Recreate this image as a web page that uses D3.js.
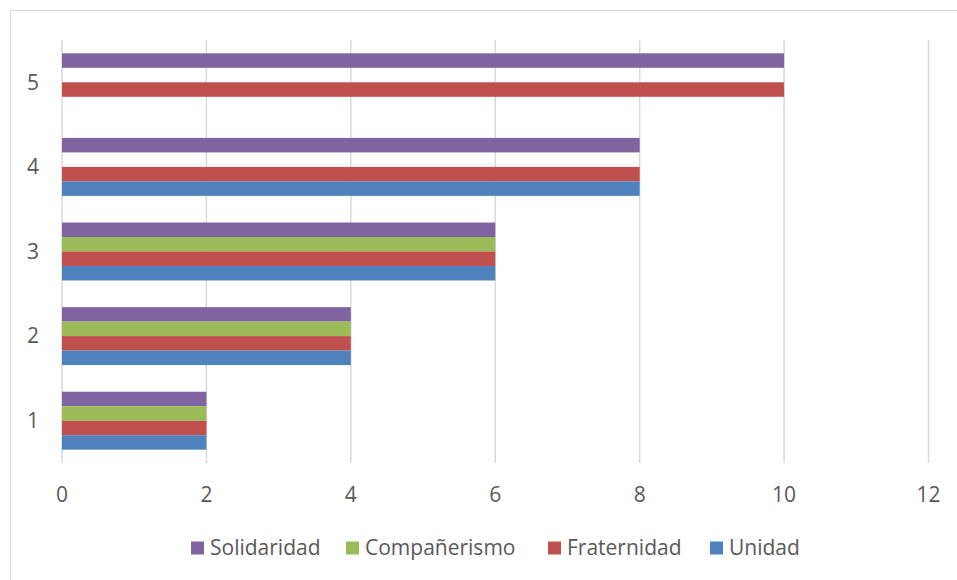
<!DOCTYPE html>
<html>
<head>
<meta charset="utf-8">
<script src="https://cdn.jsdelivr.net/npm/d3@7"></script>
<style>
  body { margin: 0; background: #fff; }
  svg { display: block; font-family: "Open Sans", sans-serif; }
</style>
</head>
<body>
<div id="main"></div>
<script>
// data
var categories = ["1", "2", "3", "4", "5"];
var seriesNames = ["Solidaridad", "Compañerismo", "Fraternidad", "Unidad"];
var solidaridad = [2, 4, 6, 8, 10];
var companerismo = [2, 4, 6, null, null];
var fraternidad = [2, 4, 6, 8, 10];
var unidad = [2, 4, 6, 8, null];
var xTicks = [0, 2, 4, 6, 8, 10, 12];
var colors = ["#8064A2", "#9BBB59", "#C0504D", "#4F81BD"];

var seriesValues = [solidaridad, companerismo, fraternidad, unidad];

var width = 957, height = 580;
var plot = {left: 62, right: 928.5, top: 40, bottom: 463};
var fontSize = 21;

var svg = d3.select("#main")
  .append("svg")
  .attr("width", width)
  .attr("height", height);

// outer chart border
svg.append("rect")
  .attr("x", 10.5)
  .attr("y", 10.5)
  .attr("width", 960)
  .attr("height", 590)
  .attr("fill", "none")
  .attr("stroke", "#d9d9d9")
  .attr("stroke-width", 1);

var x = d3.scaleLinear()
  .domain([0, 12])
  .range([plot.left, plot.right]);

var y = d3.scaleBand()
  .domain(categories.slice().reverse())
  .range([plot.top, plot.bottom])
  .paddingInner(0.315)
  .paddingOuter(0.1575);

var ySub = d3.scaleBand()
  .domain(seriesNames)
  .range([0, y.bandwidth()]);

// gridlines
svg.append("g")
  .selectAll("line")
  .data(xTicks)
  .join("line")
    .attr("x1", d => x(d))
    .attr("x2", d => x(d))
    .attr("y1", plot.top)
    .attr("y2", plot.bottom)
    .attr("stroke", "#d9d9d9")
    .attr("stroke-width", 1.5);

// bars
var rows = [];
categories.forEach(function(c, i) {
  seriesNames.forEach(function(s, j) {
    var v = seriesValues[j][i];
    if (v != null) rows.push({cat: c, series: s, value: v, color: colors[j]});
  });
});

svg.append("g")
  .selectAll("rect")
  .data(rows)
  .join("rect")
    .attr("x", x(0))
    .attr("y", d => y(d.cat) + ySub(d.series))
    .attr("width", d => x(d.value) - x(0))
    .attr("height", ySub.bandwidth())
    .attr("fill", d => d.color);

// y labels
svg.append("g")
  .attr("font-size", fontSize)
  .attr("fill", "#595959")
  .selectAll("text")
  .data(categories)
  .join("text")
    .attr("x", 33)
    .attr("y", d => y(d) + y.bandwidth() / 2)
    .attr("dy", "0.35em")
    .attr("text-anchor", "middle")
    .text(d => d);

// x labels
svg.append("g")
  .attr("font-size", fontSize)
  .attr("fill", "#595959")
  .selectAll("text")
  .data(xTicks)
  .join("text")
    .attr("x", d => x(d))
    .attr("y", 495)
    .attr("dy", "0.35em")
    .attr("text-anchor", "middle")
    .text(d => d);

// legend
var legendX = [191, 346, 548, 710];
var legend = svg.append("g")
  .selectAll("g")
  .data(seriesNames)
  .join("g")
    .attr("transform", (d, i) => "translate(" + legendX[i] + ",548)");

legend.append("rect")
  .attr("x", 0)
  .attr("y", -6.5)
  .attr("width", 13)
  .attr("height", 13)
  .attr("fill", (d, i) => colors[i]);

legend.append("text")
  .attr("x", 19)
  .attr("dy", "0.35em")
  .attr("font-size", fontSize)
  .attr("fill", "#595959")
  .text(d => d);
</script>
</body>
</html>
